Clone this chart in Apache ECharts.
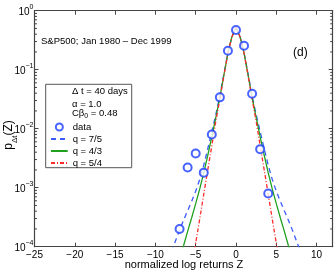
<!DOCTYPE html>
<html><head><meta charset="utf-8">
<script src="https://cdn.jsdelivr.net/npm/echarts@6/dist/echarts.min.js"></script>
<style>html,body{margin:0;padding:0;background:#fff}#c{width:336px;height:273px}</style>
</head><body><div id="c"></div>
<script>
// ---- data ----
const dataZ = [-7, -6, -5, -4, -3, -2, -1, 0, 1, 2, 3, 4];
const dataP = [2.0e-4, 2.2e-3, 3.8e-3, 1.8e-3, 8.0e-3, 0.034, 0.21, 0.47, 0.255, 0.039, 0.0045, 0.0008];

const q75Z = [-8,-7.5,-7,-6.5,-6,-5.5,-5,-4.5,-4,-3.5,-3,-2.5,-2,-1.5,-1,-0.5,0,0.5,1,1.5,2,2.5,3,3.5,4,4.5,5,5.5,6,6.5,7,7.5,8];
const q75P = [8.3e-5,1.26e-4,1.91e-4,2.82e-4,4.07e-4,5.89e-4,8.7e-4,1.38e-3,2.4e-3,4.57e-3,8.91e-3,0.0174,0.0363,0.0851,0.195,0.363,0.513,
              0.363,0.195,0.0851,0.0363,0.0174,8.91e-3,4.57e-3,2.4e-3,1.38e-3,8.7e-4,5.89e-4,4.07e-4,2.82e-4,1.91e-4,1.26e-4,8.3e-5];

const q43Z = [-7,-6.5,-6,-5.5,-5,-4.5,-4,-3.5,-3,-2.5,-2,-1.5,-1,-0.5,0,0.5,1,1.5,2,2.5,3,3.5,4,4.5,5,5.5,6,6.5,7];
const q43P = [6.3e-5,1.05e-4,1.82e-4,3.09e-4,5.37e-4,9.55e-4,1.78e-3,3.55e-3,7.24e-3,0.0155,0.0339,0.0813,0.191,0.363,0.513,
              0.363,0.191,0.0813,0.0339,0.0155,7.24e-3,3.55e-3,1.78e-3,9.55e-4,5.37e-4,3.09e-4,1.82e-4,1.05e-4,6.3e-5];

const q54Z = [-5.5,-5,-4.5,-4,-3.5,-3,-2.5,-2,-1.5,-1,-0.5,0,0.5,1,1.5,2,2.5,3,3.5,4,4.5,5,5.5];
const q54P = [4.4e-5,1.15e-4,2.95e-4,7.76e-4,2.0e-3,5.13e-3,0.0135,0.0316,0.0794,0.191,0.363,0.525,
              0.363,0.191,0.0794,0.0316,0.0135,5.13e-3,2.0e-3,7.76e-4,2.95e-4,1.15e-4,4.4e-5];

const xMin = -25, xMax = 12, xStep = 5;
const yMin = 1e-4, yMax = 1;
const minorMult = [2,3,4,5,6,7,8,9];

const FONT = 'Liberation Sans, Arial, Helvetica, sans-serif';
const pairs = (xs, ys) => xs.map((x, i) => [x, ys[i]]);
const chart = echarts.init(document.getElementById('c'), null, {renderer: 'canvas'});
const frame = '#444';
const minus = s => String(s).replace('-', '\u2212');

const yLabelFmt = v => {
  const e = Math.round(Math.log10(v));
  return '{b|10}{s|' + minus(e) + '}';
};

const grid = {left: 34.5, right: 3.3, top: 10.7, bottom: 26.3, containLabel: false, outerBoundsMode: 'none'};
const hideSym = {opacity: 0, color: 'rgba(0,0,0,0)', borderWidth: 0};

const option = {
  animation: false,
  backgroundColor: '#fff',
  grid: grid,
  xAxis: [{
    type: 'value', min: xMin, max: xMax, interval: xStep, position: 'bottom',
    axisLine: {show: true, onZero: false, lineStyle: {color: frame, width: 1.2}},
    axisTick: {inside: true, length: 4, lineStyle: {color: frame}},
    splitLine: {show: false},
    axisLabel: {fontFamily: FONT, fontSize: 10, color: '#000', margin: 4,
      formatter: v => (v % 5 === 0 ? minus(v) : ''), showMaxLabel: true}
  }, {
    type: 'value', min: xMin, max: xMax, interval: xStep, position: 'top',
    axisLine: {show: true, onZero: false, lineStyle: {color: frame, width: 1.2}},
    axisTick: {inside: true, length: 4, lineStyle: {color: frame}},
    splitLine: {show: false}, axisLabel: {show: false}
  }],
  yAxis: [{
    type: 'log', logBase: 10, min: yMin, max: yMax, position: 'left',
    axisLine: {show: true, onZero: false, lineStyle: {color: frame, width: 1.2}},
    axisTick: {inside: true, length: 4, lineStyle: {color: frame}},
    splitLine: {show: false},
    axisLabel: {formatter: yLabelFmt, margin: 1,
      rich: {b: {fontFamily: FONT, fontSize: 10, color: '#000', lineHeight: 14, verticalAlign: 'bottom'},
             s: {fontFamily: FONT, fontSize: 7, color: '#000', lineHeight: 8, verticalAlign: 'top'}}}
  }, {
    type: 'log', logBase: 10, min: yMin, max: yMax, position: 'right',
    axisLine: {show: true, onZero: false, lineStyle: {color: frame, width: 1.2}},
    axisTick: {inside: true, length: 4, lineStyle: {color: frame}},
    splitLine: {show: false}, axisLabel: {show: false}
  }],
  legend: {
    orient: 'vertical', left: 45, top: 116.5, itemGap: 1, itemWidth: 16.7, itemHeight: 7, z: 20,
    textStyle: {fontFamily: FONT, fontSize: 9.5, color: '#000', lineHeight: 11},
    data: [
      {name: 'data', icon: 'emptyCircle'},
      {name: 'q = 7/5', itemStyle: hideSym}, {name: 'q = 4/3', itemStyle: hideSym}, {name: 'q = 5/4', itemStyle: hideSym}
    ]
  },
  graphic: [
    {type: 'rect', shape: {x: 45.7, y: 84.3, width: 86, height: 83.4}, style: {fill: '#fff', stroke: '#555', lineWidth: 1}, z: 1},
    {type: 'text', x: 72, y: 91.7, style: {text: '\u0394 t = 40 days', font: '9.5px ' + FONT, fill: '#000', verticalAlign: 'middle'}, z: 6},
    {type: 'text', x: 72, y: 104, style: {text: '\u03b1 = 1.0', font: '9.5px ' + FONT, fill: '#000', verticalAlign: 'middle'}, z: 6},
    {type: 'text', x: 72, y: 114, style: {text: '{a|C\u03b2}{s|0}{a| = 0.48}', fill: '#000', verticalAlign: 'middle',
      rich: {a: {fontFamily: FONT, fontSize: 9.5, lineHeight: 12, verticalAlign: 'top'}, s: {fontFamily: FONT, fontSize: 7, lineHeight: 7, verticalAlign: 'bottom'}}}, z: 6},
    {type: 'text', x: 41, y: 41.7, style: {text: 'S&P500; Jan 1980 \u2013 Dec 1999', font: '9.5px ' + FONT, fill: '#000', verticalAlign: 'middle'}, z: 6},
    {type: 'text', x: 293, y: 53, style: {text: '(d)', font: '12px ' + FONT, fill: '#000', verticalAlign: 'middle'}, z: 6},
    {type: 'text', x: 184, y: 265, style: {text: 'normalized log returns Z', font: '11px ' + FONT, fill: '#000', align: 'center', verticalAlign: 'middle'}, z: 6},
    {type: 'text', x: 11, y: 135, rotation: Math.PI / 2, style: {text: '{p|p}{sub|\u0394t}{p|(Z)}', align: 'center', verticalAlign: 'middle',
      rich: {p: {fontFamily: FONT, fontSize: 12, fill: '#000', lineHeight: 16, verticalAlign: 'top'},
             sub: {fontFamily: FONT, fontSize: 8, fill: '#000', lineHeight: 8, verticalAlign: 'bottom'}}}, z: 6}
  ],
  series: [
    {name: 'q = 7/5', type: 'line', data: pairs(q75Z, q75P), showSymbol: false, symbol: 'none', clip: true, z: 3,
      lineStyle: {color: '#3b5bff', width: 1.3, type: [5, 4]}, itemStyle: {color: '#3b5bff'}},
    {name: 'q = 4/3', type: 'line', data: pairs(q43Z, q43P), showSymbol: false, symbol: 'none', clip: true, z: 3,
      lineStyle: {color: '#1fa01f', width: 1.3, type: 'solid'}, itemStyle: {color: '#1fa01f'}},
    {name: 'q = 5/4', type: 'line', data: pairs(q54Z, q54P), showSymbol: false, symbol: 'none', clip: true, z: 4,
      lineStyle: {color: '#ff2a2a', width: 1.3, type: [4, 2, 1, 2]}, itemStyle: {color: '#ff2a2a'}},
    {name: 'data', type: 'scatter', data: pairs(dataZ, dataP), symbol: 'emptyCircle', symbolSize: 8, z: 5,
      itemStyle: {color: '#1a3cff', borderColor: '#1a3cff', borderWidth: 1.5}}
  ]
};
chart.setOption(option);

// minor log ticks on both vertical sides, positioned through the axis scale
const minor = [];
const gl = grid.left, gr = 336 - grid.right;
for (let k = -4; k < 0; k++) {
  minorMult.forEach(m => {
    const v = m * Math.pow(10, k);
    const py = chart.convertToPixel({yAxisIndex: 0}, v);
    minor.push({type: 'line', shape: {x1: gl, y1: py, x2: gl + 2.5, y2: py}, style: {stroke: frame, lineWidth: 1}, z: 6});
    minor.push({type: 'line', shape: {x1: gr - 2.5, y1: py, x2: gr, y2: py}, style: {stroke: frame, lineWidth: 1}, z: 6});
  });
}
chart.setOption({graphic: option.graphic.concat(minor)});
</script></body></html>
